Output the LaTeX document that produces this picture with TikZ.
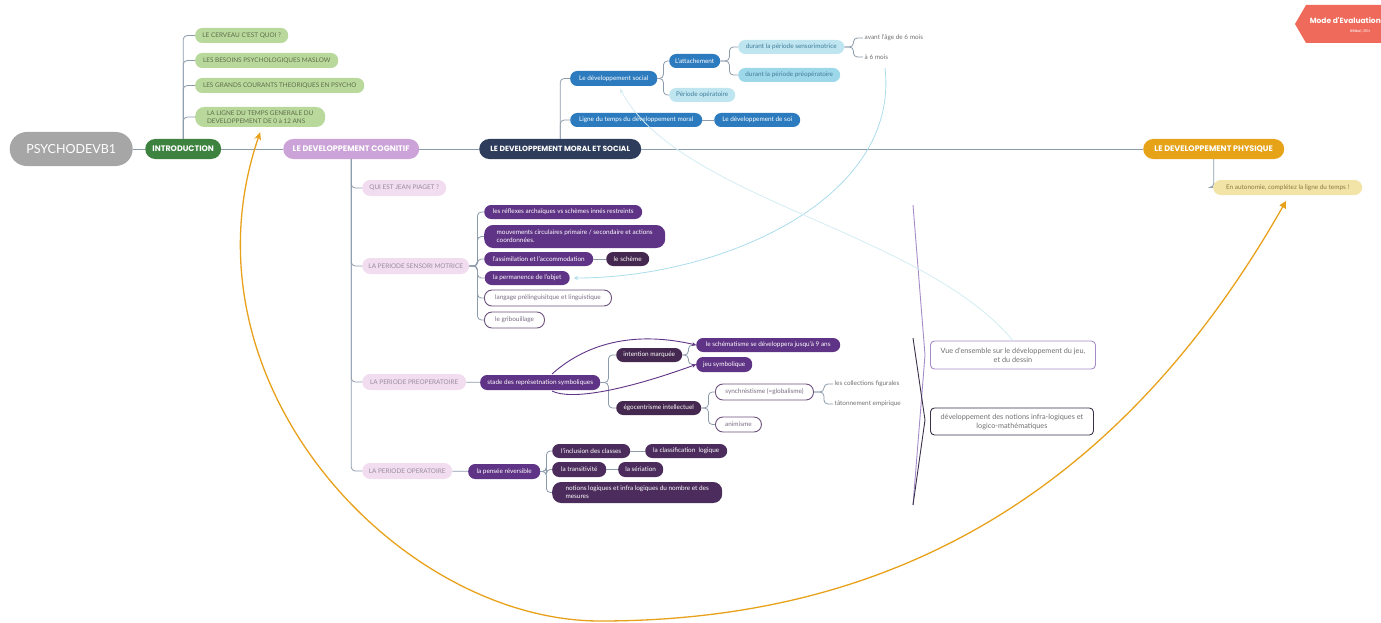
\documentclass[tikz,border=0pt]{standalone}
\usepackage{fontspec}
\setmainfont{Lato}
\newfontfamily\hf{Poppins}
\usetikzlibrary{arrows.meta}
\definecolor{lineC}{HTML}{8C9BAA}
\definecolor{rootC}{HTML}{A6A6A6}
\definecolor{introC}{HTML}{3D823F}
\definecolor{cogC}{HTML}{CBA3D8}
\definecolor{moralC}{HTML}{2F3D5C}
\definecolor{physC}{HTML}{E6A317}
\definecolor{greenL}{HTML}{B9D99C}
\definecolor{greenT}{HTML}{5E6E4C}
\definecolor{pinkL}{HTML}{F1DDEF}
\definecolor{pinkT}{HTML}{9A8C9E}
\definecolor{purC}{HTML}{5F3385}
\definecolor{dpurC}{HTML}{45284F}
\definecolor{opurC}{HTML}{4B2C5C}
\definecolor{outC}{HTML}{6B507C}
\definecolor{outT}{HTML}{7A6C82}
\definecolor{blueC}{HTML}{2C7BBE}
\definecolor{lblueC}{HTML}{BFE5F0}
\definecolor{mblueC}{HTML}{9DD8EA}
\definecolor{lblueT}{HTML}{3F7D9A}
\definecolor{yelC}{HTML}{F2E3A6}
\definecolor{yelT}{HTML}{8A7C45}
\definecolor{plainT}{HTML}{707070}
\definecolor{orC}{HTML}{E8A11B}
\definecolor{curveA}{HTML}{A9DDEB}
\definecolor{curveB}{HTML}{D3ECF2}
\definecolor{braceA}{HTML}{A58BC8}
\definecolor{braceB}{HTML}{3B3049}
\definecolor{badgeC}{HTML}{EF6A5A}
\newcommand\smallf{\fontsize{6.4}{7.8}\selectfont}
\newcommand\capsf{\fontsize{6.4}{8}\selectfont}
\newcommand\mknode[7]{\node[#1,anchor=west,minimum width=#5pt,minimum height=#6pt] (#2) at (#3-#5/2,#4) {#7};}
\begin{document}
\begin{tikzpicture}[x=1pt,y=-1pt,
  every node/.style={inner sep=0pt, align=center},
  conn/.style={draw=lineC, line width=0.8pt, rounded corners=4pt},
  rootS/.style={fill=rootC, text=white, rounded corners=17pt, font=\fontsize{12.5}{15}\selectfont},
  headS/.style={rounded corners=10pt, text=white, font=\hf\bfseries\fontsize{8}{9.5}\selectfont},
  greenS/.style={fill=greenL, text=greenT, rounded corners=7pt, font=\capsf},
  pinkS/.style={fill=pinkL, text=pinkT, rounded corners=8pt, font=\capsf},
  purS/.style={fill=purC, text=white, rounded corners=7pt, font=\smallf},
  dpurS/.style={fill=dpurC, text=white, rounded corners=7pt, font=\smallf},
  opurS/.style={fill=opurC, text=white, rounded corners=7pt, font=\smallf},
  outS/.style={draw=outC, line width=0.9pt, fill=white, text=outT, rounded corners=7.5pt, font=\smallf},
  blueS/.style={fill=blueC, text=white, rounded corners=7pt, font=\smallf},
  lblueS/.style={fill=lblueC, text=lblueT, rounded corners=7pt, font=\smallf},
  mblueS/.style={fill=mblueC, text=lblueT, rounded corners=7pt, font=\smallf},
  yelS/.style={fill=yelC, text=yelT, rounded corners=7.5pt, font=\smallf},
  plainS/.style={text=plainT, font=\smallf, anchor=west, inner xsep=1.5pt},
  boxS/.style={fill=white, rounded corners=4pt, line width=0.9pt, text=plainT, font=\fontsize{7.3}{9}\selectfont}
]
\useasboundingbox (0,0) rectangle (1381,623);

% ---- main topics
\mknode{rootS}{root}{71}{149}{123}{34}{PSYCHODEVB1}
\mknode{headS,fill=introC}{intro}{183}{149}{76}{20}{INTRODUCTION}
\mknode{headS,fill=cogC}{cog}{351}{149}{136}{20}{LE DEVELOPPEMENT COGNITIF}
\mknode{headS,fill=moralC,font=\hf\bfseries\fontsize{7.5}{9}\selectfont}{moral}{560}{149}{162}{20}{LE DEVELOPPEMENT MORAL ET SOCIAL}
\mknode{headS,fill=physC}{phys}{1213.5}{149}{141}{20}{LE DEVELOPPEMENT PHYSIQUE}
\draw[conn] (root) -- (intro);
\draw[conn] (intro) -- (cog);
\draw[conn] (cog) -- (moral);
\draw[conn] (moral) -- (phys);

% ---- introduction
\mknode{greenS}{i1}{241.5}{35.5}{93}{15}{LE CERVEAU C'EST QUOI ?}
\mknode{greenS}{i2}{266.5}{60.5}{143}{15}{LES BESOINS PSYCHOLOGIQUES MASLOW}
\mknode{greenS}{i3}{279.5}{85.5}{169}{15}{LES GRANDS COURANTS THEORIQUES EN PSYCHO}
\mknode{greenS,align=left,rounded corners=9pt}{i4}{260}{117}{130}{20}{LA LIGNE DU TEMPS GENERALE DU\\DEVELOPPEMENT DE 0 à 12 ANS}
\foreach \c in {i1,i2,i3,i4} \draw[conn] (intro.north) |- (\c.west);

% ---- cognitif
\mknode{pinkS}{c1}{404}{188}{84}{16}{QUI EST JEAN PIAGET ?}
\mknode{pinkS}{c2}{415.5}{266}{107}{16}{LA PERIODE SENSORI MOTRICE}
\mknode{pinkS}{c3}{414}{382}{104}{16}{LA PERIODE PREOPERATOIRE}
\mknode{pinkS}{c4}{407}{471}{90}{16}{LA PERIODE OPERATOIRE}
\foreach \c in {c1,c2,c3,c4} \draw[conn] (cog.south) |- (\c.west);

% sensori motrice
\mknode{purS}{s1}{563}{212}{158}{14}{les réflexes archaïques vs schèmes innés restreints}
\mknode{purS,align=left,rounded corners=9pt}{s2}{574.5}{236.5}{181}{23}{mouvements circulaires primaire / secondaire et actions\\coordonnées.}
\mknode{purS}{s3}{538.5}{259}{109}{14}{l'assimilation et l'accommodation}
\mknode{dpurS}{s3a}{627.5}{259}{43}{14}{le schème}
\mknode{purS}{s4}{527}{278}{85}{14}{la permanence de l'objet}
\mknode{outS}{s5}{547.5}{298}{127}{16}{langage prélinguisitque et linguistique}
\mknode{outS}{s6}{514}{320}{60}{16}{le gribouillage}
\foreach \c in {s1,s2,s3,s4,s5,s6} \draw[conn] (c2.east) -- ++(8,0) |- (\c.west);
\draw[conn] (s3) -- (s3a);

% preoperatoire
\mknode{purS}{p1}{540}{382.5}{120}{15}{stade des représetnation symboliques}
\draw[conn] (c3) -- (p1);
\mknode{dpurS}{p1a}{649}{355}{66}{14}{intention marquée}
\mknode{dpurS}{p1b}{658.5}{408}{85}{14}{égocentrisme intellectuel}
\foreach \c in {p1a,p1b} \draw[conn] (p1.east) -- ++(8,0) |- (\c.west);
\mknode{purS}{p1a1}{768}{345}{144}{14}{le schématisme se développera jusqu'à 9 ans}
\mknode{purS}{p1a2}{724}{364.5}{56}{15}{jeu symbolique}
\foreach \c in {p1a1,p1a2} \draw[conn] (p1a.east) -- ++(6,0) |- (\c.west);
\mknode{outS}{p1b1}{764}{392}{98}{16}{synchréstisme (=globalisme)}
\mknode{outS}{p1b2}{738}{424.5}{46}{15}{animisme}
\foreach \c in {p1b1,p1b2} \draw[conn] (p1b.east) -- ++(7,0) |- (\c.west);
\node[plainS] (t1) at (833,384) {les collections figurales};
\node[plainS] (t2) at (833,404) {tâtonnement empirique};
\foreach \c in {t1,t2} \draw[conn] (p1b1.east) -- ++(10,0) |- (\c.west);

% operatoire
\mknode{purS}{o1}{504}{471.5}{72}{15}{la pensée réversible}
\draw[conn] (c4) -- (o1);
\mknode{opurS}{o1a}{591}{451}{78}{14}{l'inclusion des classes}
\mknode{opurS}{o1a1}{686}{451}{82}{14}{la classification\ \ logique}
\mknode{opurS}{o1b}{579}{469.5}{54}{15}{la transitivité}
\mknode{opurS}{o1b1}{640.5}{469.5}{45}{15}{la sériation}
\mknode{opurS,align=left,rounded corners=9pt}{o1c}{637}{492.5}{170}{21}{notions logiques et infra logiques du nombre et des\\mesures}
\foreach \c in {o1a,o1b,o1c} \draw[conn] (o1.east) -- ++(6,0) |- (\c.west);
\draw[conn] (o1a) -- (o1a1);
\draw[conn] (o1b) -- (o1b1);

% ---- moral et social
\mknode{blueS}{m1}{613.5}{78.5}{87}{15}{Le développement social}
\mknode{blueS}{m2}{636}{120}{132}{14}{Ligne du temps du développement moral}
\mknode{blueS}{m2a}{757}{120}{86}{14}{Le développement de soi}
\foreach \c in {m1,m2} \draw[conn] (moral.north) |- (\c.west);
\draw[conn] (m2) -- (m2a);
\mknode{blueS}{m1a}{694.5}{61}{51}{14}{L'attachement}
\mknode{lblueS}{m1b}{702}{95}{66}{14}{Période opératoire}
\foreach \c in {m1a,m1b} \draw[conn] (m1.east) -- ++(6,0) |- (\c.west);
\mknode{lblueS}{m1a1}{791}{47}{106}{14}{durant la période sensorimotrice}
\mknode{mblueS}{m1a2}{789}{75}{102}{14}{durant la période préopératoire}
\foreach \c in {m1a1,m1a2} \draw[conn] (m1a.east) -- ++(9,0) |- (\c.west);
\node[plainS] (t3) at (863,38) {avant l'âge de 6 mois};
\node[plainS] (t4) at (863,57) {à 6 mois};
\foreach \c in {t3,t4} \draw[conn] (m1a1.east) -- ++(9,0) |- (\c.west);

% ---- physique
\mknode{yelS}{ph1}{1287.5}{187.5}{149}{15}{En autonomie, complétez la ligne du temps !}
\draw[conn] (phys.south) |- (ph1.west);

% ---- boxes on the right
\mknode{boxS,draw=braceA}{v1}{1012.5}{355}{165}{28}{Vue d'ensemble sur le développement du jeu,\\et du dessin}
\mknode{boxS,draw=braceB}{v2}{1011.5}{421.5}{163}{27}{développement des notions infra-logiques et\\logico-mathématiques}
\coordinate (ba1) at (913,205);
\coordinate (ba2) at (925,355);
\coordinate (ba3) at (913,505);
\coordinate (bb1) at (913,338);
\coordinate (bb2) at (925,420);
\coordinate (bb3) at (913,505);
\draw[braceA, line width=0.9pt] (ba1) -- (ba2) -- (ba3);
\draw[braceB, line width=0.9pt] (bb1) -- (bb2) -- (bb3);

% ---- relation curves
\coordinate (cA) at (885,68);
\coordinate (cB) at (620,89);
\coordinate (cP1) at (552,374);
\coordinate (cP2) at (552,391);
\coordinate (cO) at (1286,201);
\draw[curveA, line width=0.8pt, -{Stealth[length=4pt,width=4pt]}] (cA) .. controls (900,200) and (720,278) .. ([xshift=4pt]s4.east);
\draw[curveB, line width=0.8pt, {Stealth[length=4pt,width=4pt]}-] (cB) .. controls (680,200) and (920,230) .. (v1.north);
\draw[purC, line width=0.9pt, -{Stealth[length=4pt,width=4pt]}] (cP1) .. controls (590,340) and (640,332) .. (p1a1.west);
\draw[purC, line width=0.9pt, -{Stealth[length=4pt,width=4pt]}] (cP2) .. controls (570,400) and (620,392) .. (p1a2.west);
\draw[orC, line width=1.3pt, {Triangle[length=7pt,width=7pt]}-{Stealth[length=8pt,width=7pt]}] (cO) .. controls (1100,528) and (850,621) .. (600,621) .. controls (400,621) and (174,383) .. ([yshift=-5pt]i4.south);

% ---- badge
\fill[badgeC] (1295,24) -- (1306,5) -- (1385,5) -- (1385,43) -- (1306,43) -- cycle;
\node[text=white, anchor=east, font=\hf\bfseries\fontsize{7.5}{9}\selectfont] (badge) at (1381,21) {Mode d'Evaluation};
\node[text=white, anchor=west, font=\fontsize{3.5}{4}\selectfont] (badge2) at (1350,31) {\textbf{XMind} | ZEN};
\end{tikzpicture}
\end{document}
